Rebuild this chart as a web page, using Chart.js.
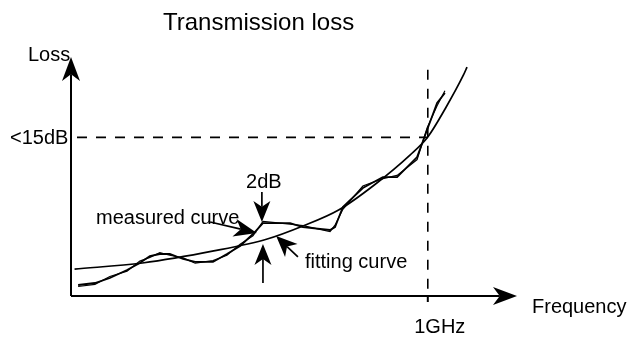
<!DOCTYPE html>
<html>
<head>
<meta charset="utf-8">
<script src="https://cdn.jsdelivr.net/npm/chart.js@4/dist/chart.umd.min.js"></script>
<style>
  body { margin: 0; background: #fff; }
  #wrap { width: 629px; height: 338px; }
</style>
</head>
<body>
<div id="wrap"><canvas id="chart" width="629" height="338"></canvas></div>
<script>
// frequency in GHz (1 = the 1GHz mark), loss in dB
const fitFreq = [0.01, 0.2, 0.4, 0.55, 0.65, 0.75, 0.85, 0.95, 1.0, 1.05, 1.1, 1.11];
const fitLoss = [2.55, 3.12, 4.26, 5.39, 6.62, 8.13, 10.5, 13.33, 15.04, 17.78, 20.9, 21.65];

const measFreq = [0.02, 0.067, 0.109, 0.157, 0.193, 0.221, 0.249, 0.277, 0.314, 0.348, 0.398, 0.437, 0.474, 0.51, 0.538, 0.614, 0.65, 0.726, 0.74, 0.762, 0.818, 0.874, 0.914, 0.97, 0.998, 1.026, 1.048];
const measLoss = [1.04, 1.23, 1.7, 2.46, 3.12, 3.78, 3.97, 3.97, 3.5, 3.22, 3.22, 3.97, 4.73, 5.86, 6.9, 6.9, 6.52, 6.24, 6.52, 8.42, 10.21, 11.25, 11.25, 13.14, 15.7, 18.25, 19.2];
// second trace of the measured line (drawn slightly off the first one)
const measLoss2 = [0.9, 1.1, 1.85, 2.35, 3.3, 3.65, 4.1, 3.85, 3.6, 3.1, 3.35, 3.85, 4.9, 5.7, 7.05, 6.8, 6.65, 6.1, 6.7, 8.2, 10.4, 11.1, 11.4, 12.9, 15.9, 18.0, 19.4];

const limitFreq = 1.0;   // 1GHz
const limitLoss = 15;    // <15dB

const labels = {
  title: "Transmission loss",
  yName: "Loss",
  xName: "Frequency",
  limitY: "<15dB",
  limitX: "1GHz",
  delta: "2dB",
  measured: "measured curve",
  fitting: "fitting curve"
};

const xy = (xs, ys) => xs.map((x, i) => ({ x: x, y: ys[i] }));

function arrow(ctx, x1, y1, x2, y2, len, half) {
  const a = Math.atan2(y2 - y1, x2 - x1);
  const c = Math.cos(a), s = Math.sin(a);
  const bx = x2 - c * len, by = y2 - s * len;
  const nx = x2 - c * len * 0.72, ny = y2 - s * len * 0.72;
  ctx.beginPath();
  ctx.moveTo(x1, y1);
  ctx.lineTo(nx, ny);
  ctx.stroke();
  ctx.beginPath();
  ctx.moveTo(x2, y2);
  ctx.lineTo(bx - s * half, by + c * half);
  ctx.lineTo(nx, ny);
  ctx.lineTo(bx + s * half, by - c * half);
  ctx.closePath();
  ctx.fill();
}

const sketch = {
  id: "sketch",
  afterDatasetsDraw(chart) {
    const ctx = chart.ctx;
    const sx = chart.scales.x, sy = chart.scales.y;
    const X = v => sx.getPixelForValue(v), Y = v => sy.getPixelForValue(v);
    ctx.save();
    ctx.strokeStyle = "#000";
    ctx.fillStyle = "#000";

    // dashed guides
    ctx.lineWidth = 1.6;
    ctx.setLineDash([10, 9]);
    ctx.beginPath();
    ctx.moveTo(X(0) + 6, Y(limitLoss));
    ctx.lineTo(X(limitFreq), Y(limitLoss));
    ctx.moveTo(X(limitFreq), Y(21.4));
    ctx.lineTo(X(limitFreq), Y(0));
    ctx.stroke();
    ctx.setLineDash([]);

    // axes
    ctx.lineWidth = 2;
    arrow(ctx, X(0), Y(0), X(0), sy.top, 24, 9);
    arrow(ctx, X(0), Y(0), sx.right, Y(0), 24, 9);
    ctx.beginPath();
    ctx.moveTo(X(limitFreq), Y(0));
    ctx.lineTo(X(limitFreq), Y(0) + 6);
    ctx.stroke();

    // annotation arrows
    ctx.lineWidth = 1.7;
    arrow(ctx, X(0.39), Y(7.0), X(0.521), Y(5.96), 23, 9);
    arrow(ctx, X(0.535), Y(9.83), X(0.535), Y(7.0), 21, 8.5);
    arrow(ctx, X(0.538), Y(1.23), X(0.538), Y(4.92), 21, 8.5);
    arrow(ctx, X(0.636), Y(3.69), X(0.575), Y(5.67), 21, 9);

    // texts
    ctx.font = "24px 'Liberation Sans', Arial, sans-serif";
    ctx.textBaseline = "alphabetic";
    ctx.fillText(labels.title, 163, 30);
    ctx.font = "20px 'Liberation Sans', Arial, sans-serif";
    ctx.fillText(labels.yName, 28, 61);
    ctx.textBaseline = "middle";
    ctx.fillText(labels.limitY, 10, Y(limitLoss) + 1);
    ctx.textBaseline = "alphabetic";
    ctx.fillText(labels.measured, 96, 224);
    ctx.fillText(labels.fitting, 305, 268);
    ctx.textAlign = "center";
    ctx.fillText(labels.delta, X(0.535) + 2, 188);
    ctx.fillText(labels.limitX, X(limitFreq) + 12, 333);
    ctx.textAlign = "left";
    ctx.fillText(labels.xName, 532, 313);
    ctx.restore();
  }
};

new Chart(document.getElementById("chart"), {
  type: "line",
  data: {
    datasets: [
      {
        label: "fitting curve",
        data: xy(fitFreq, fitLoss),
        borderColor: "#000",
        borderWidth: 1.7,
        tension: 0.4,
        cubicInterpolationMode: "monotone",
        pointRadius: 0,
        fill: false
      },
      {
        label: "measured curve",
        data: xy(measFreq, measLoss),
        borderColor: "#000",
        borderWidth: 1.8,
        tension: 0,
        pointRadius: 0,
        fill: false
      },
      {
        label: "measured curve 2",
        data: xy(measFreq, measLoss2),
        borderColor: "#000",
        borderWidth: 1.2,
        tension: 0,
        pointRadius: 0,
        fill: false
      }
    ]
  },
  options: {
    responsive: false,
    animation: false,
    devicePixelRatio: 1,
    layout: { padding: { left: 71, right: 112, top: 57, bottom: 42 } },
    scales: {
      x: { type: "linear", min: 0, max: 1.25, display: false },
      y: { type: "linear", min: 0, max: 22.6, display: false }
    },
    plugins: {
      legend: { display: false },
      tooltip: { enabled: false }
    }
  },
  plugins: [sketch]
});
</script>
</body>
</html>
